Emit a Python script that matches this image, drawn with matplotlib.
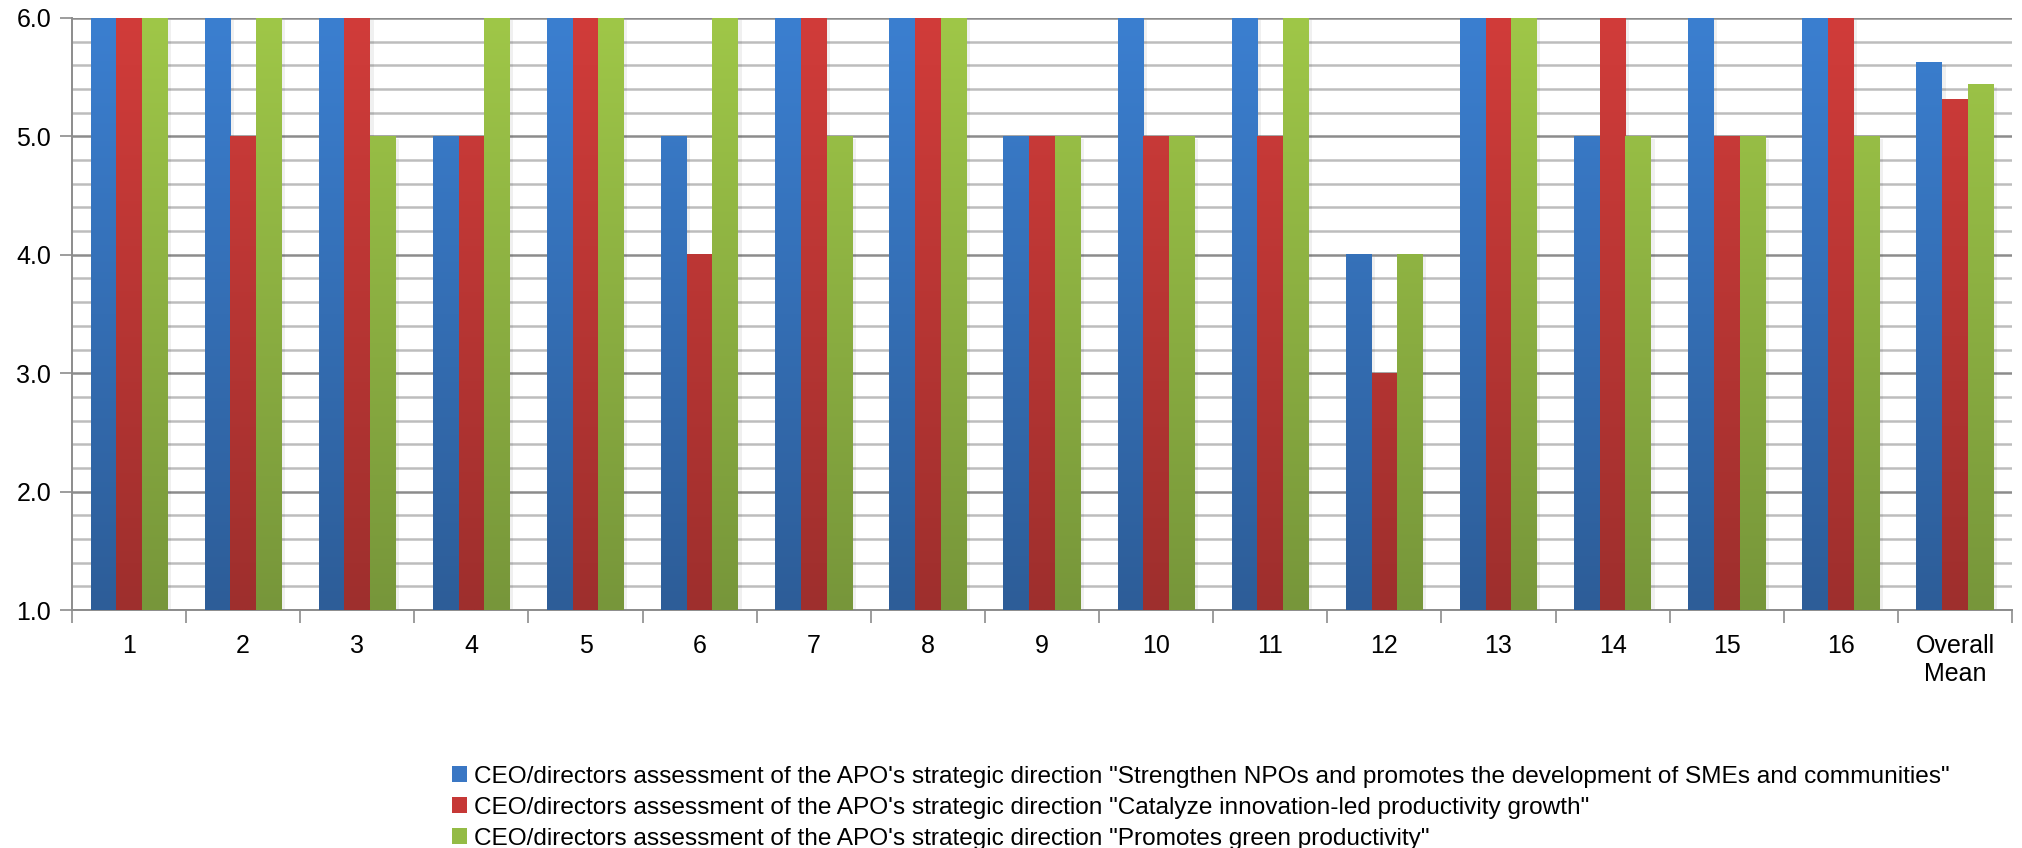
import numpy as np
import matplotlib
import matplotlib.pyplot as plt
from matplotlib.colors import LinearSegmentedColormap
from matplotlib.patches import Patch
matplotlib.use('Agg')

# Data
categories = ['1', '2', '3', '4', '5', '6', '7', '8', '9', '10', '11', '12', '13', '14', '15', '16', 'Overall\nMean']
strengthen = [6, 6, 6, 5, 6, 5, 6, 6, 5, 6, 6, 4, 6, 5, 6, 6, 5.625]
catalyze = [6, 5, 6, 5, 6, 4, 6, 6, 5, 5, 5, 3, 6, 6, 5, 6, 5.3125]
green = [6, 6, 5, 6, 6, 6, 5, 6, 5, 5, 6, 4, 6, 5, 5, 5, 5.4375]

series_labels = [
    'CEO/directors assessment of the APO\'s strategic direction "Strengthen NPOs and promotes the development of SMEs and communities"',
    'CEO/directors assessment of the APO\'s strategic direction "Catalyze innovation-led productivity growth"',
    'CEO/directors assessment of the APO\'s strategic direction "Promotes green productivity"',
]
# (top colour, bottom colour) for the gradient fill
series_colors = [('#3b7fd0', '#2d5d98'), ('#d13c3a', '#9e2f2d'), ('#9fc748', '#77963a')]
flat_colors = ['#3a77c4', '#c63836', '#94bb45']

plt.rcParams['font.family'] = ['Liberation Sans', 'DejaVu Sans']

fig = plt.figure(figsize=(20.22, 8.48), dpi=100)
ax = fig.add_axes([72 / 2022, 238 / 848, 1940 / 2022, 592 / 848])

ymin, ymax = 1.0, 6.0
bar_w = 0.225
x = np.arange(len(categories))
all_series = [strengthen, catalyze, green]

for i, vals in enumerate(all_series):
    top, bottom = series_colors[i]
    cmap = LinearSegmentedColormap.from_list(f'g{i}', [bottom, top])
    for xi, v in zip(x, vals):
        x0 = xi + (i - 1.5) * bar_w
        # soft shadow
        ax.bar(x0 + bar_w / 2 + 0.03, v - ymin - 0.02, width=bar_w, bottom=ymin,
               color='#000000', alpha=0.06, zorder=2, linewidth=0)
        # gradient relative to full axis height (like Excel's fill)
        frac = (v - ymin) / (ymax - ymin)
        g = np.linspace(frac, 0, 256).reshape(-1, 1)
        ax.imshow(g, extent=[x0, x0 + bar_w, ymin, v], aspect='auto',
                  cmap=cmap, vmin=0, vmax=1, zorder=3, interpolation='bicubic')

ax.set_xlim(-0.5, len(categories) - 0.5)
ax.set_ylim(ymin, ymax)

# y axis: major ticks every 1, minor gridlines every 0.2
ax.set_yticks(np.arange(1, 6.01, 1.0))
ax.set_yticklabels([f'{v:.1f}' for v in np.arange(1, 6.01, 1.0)], fontsize=18)
ax.set_yticks(np.arange(1, 6.01, 0.2), minor=True)
ax.grid(axis='y', which='major', color='#8c8c8c', linewidth=1.8, zorder=1)
ax.grid(axis='y', which='minor', color='#bdbdbd', linewidth=1.8, zorder=1)
ax.tick_params(axis='y', which='major', length=9, width=1.2, color='#8c8c8c', pad=6)
ax.tick_params(axis='y', which='minor', length=0)

# x axis: labels at centres, tick marks at boundaries
ax.set_xticks(x)
ax.set_xticklabels(categories, fontsize=18, linespacing=1.25)
ax.tick_params(axis='x', which='major', length=0, pad=17)
ax.set_xticks(np.arange(-0.5, len(categories), 1.0), minor=True)
ax.tick_params(axis='x', which='minor', length=9, width=1.2, color='#8c8c8c')

for side in ['top', 'right']:
    ax.spines[side].set_visible(False)
for side in ['left', 'bottom']:
    ax.spines[side].set_color('#8c8c8c')
    ax.spines[side].set_linewidth(1.4)

handles = [Patch(facecolor=c, edgecolor='none') for c in flat_colors]
fig.legend(handles, series_labels, loc='upper left', bbox_to_anchor=(452 / 2022, 1 - 766 / 848),
           frameon=False, fontsize=17.6, handlelength=0.62, handleheight=0.62,
           handletextpad=0.28, labelspacing=0.36, borderpad=0, borderaxespad=0)

fig.savefig('out.png', dpi=100, facecolor='white')
